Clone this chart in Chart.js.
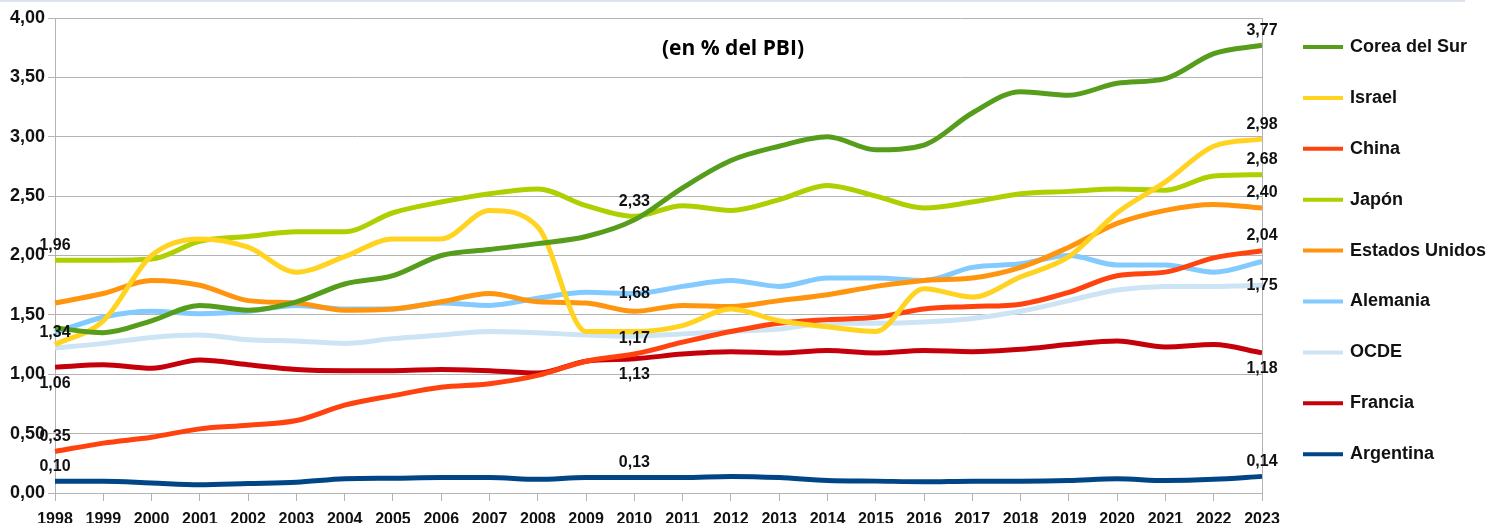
<!DOCTYPE html>
<html>
<head>
<meta charset="utf-8">
<script src="https://cdn.jsdelivr.net/npm/chart.js@4/dist/chart.umd.min.js"></script>
<style>
  html, body { margin: 0; padding: 0; background: #fff; }
  #wrap { width: 1498px; height: 523px; position: relative; }
</style>
</head>
<body>
<div id="wrap"><canvas id="chart"></canvas></div>
<script>
const years = ["1998","1999","2000","2001","2002","2003","2004","2005","2006","2007","2008","2009","2010",
               "2011","2012","2013","2014","2015","2016","2017","2018","2019","2020","2021","2022","2023"];

const corea     = [1.39,1.35,1.45,1.58,1.54,1.61,1.76,1.83,2.00,2.05,2.10,2.16,2.30,2.57,2.80,2.92,3.00,2.89,2.93,3.20,3.38,3.35,3.45,3.49,3.70,3.77];
const israel    = [1.25,1.45,2.00,2.14,2.07,1.86,1.99,2.14,2.14,2.38,2.24,1.36,1.36,1.41,1.55,1.45,1.40,1.36,1.72,1.65,1.82,1.99,2.36,2.62,2.92,2.98];
const china     = [0.35,0.42,0.47,0.54,0.57,0.61,0.74,0.82,0.89,0.92,0.99,1.11,1.17,1.27,1.36,1.43,1.46,1.48,1.55,1.57,1.59,1.69,1.83,1.86,1.98,2.04];
const japon     = [1.96,1.96,1.97,2.12,2.16,2.20,2.20,2.36,2.45,2.52,2.56,2.42,2.33,2.42,2.38,2.47,2.59,2.50,2.40,2.45,2.52,2.54,2.56,2.55,2.67,2.68];
const eeuu      = [1.60,1.68,1.79,1.75,1.62,1.60,1.54,1.55,1.61,1.68,1.61,1.60,1.53,1.58,1.57,1.62,1.67,1.74,1.79,1.81,1.90,2.07,2.27,2.38,2.43,2.40];
const alemania  = [1.35,1.48,1.53,1.51,1.53,1.58,1.55,1.55,1.60,1.58,1.64,1.69,1.68,1.74,1.79,1.74,1.81,1.81,1.79,1.90,1.93,2.00,1.92,1.92,1.86,1.95];
const ocde      = [1.22,1.26,1.31,1.33,1.29,1.28,1.26,1.30,1.33,1.36,1.35,1.33,1.32,1.34,1.36,1.38,1.43,1.43,1.44,1.47,1.53,1.62,1.71,1.74,1.74,1.75];
const francia   = [1.06,1.08,1.05,1.12,1.08,1.04,1.03,1.03,1.04,1.03,1.01,1.11,1.13,1.17,1.19,1.18,1.20,1.18,1.20,1.19,1.21,1.25,1.28,1.23,1.25,1.18];
const argentina = [0.10,0.10,0.085,0.07,0.08,0.09,0.12,0.125,0.13,0.13,0.115,0.13,0.13,0.13,0.14,0.13,0.105,0.10,0.095,0.10,0.10,0.105,0.12,0.105,0.115,0.14];

const seriesNames  = ["Corea del Sur","Israel","China","Japón","Estados Unidos","Alemania","OCDE","Francia","Argentina"];
const seriesValues = [corea, israel, china, japon, eeuu, alemania, ocde, francia, argentina];
const seriesColors = ["#579d1c","#ffd320","#ff420e","#aecf00","#ff950e","#83caff","#cde4f5","#c5000b","#004586"];

// value labels: [series, year, where]
const valueLabels = [
    [3, "1998", "above"], [5, "1998", "center"], [7, "1998", "below"], [2, "1998", "above"], [8, "1998", "above"],
    [3, "2010", "above"], [5, "2010", "center"], [2, "2010", "above"], [7, "2010", "below"], [8, "2010", "above"],
    [0, "2023", "above"], [1, "2023", "above"], [3, "2023", "above"], [4, "2023", "above"], [2, "2023", "above"],
    [6, "2023", "center"], [7, "2023", "below"], [8, "2023", "above"]
];
const labelTexts = ["1,96","1,34","1,06","0,35","0,10",
                    "2,33","1,68","1,17","1,13","0,13",
                    "3,77","2,98","2,68","2,40","2,04","1,75","1,18","0,14"];

const fmt = v => v.toFixed(2).replace(".", ",");

const extras = {
    id: "extras",
    afterDraw(chart) {
        const ctx = chart.ctx;
        const area = chart.chartArea;
        ctx.save();
        // top strip
        ctx.fillStyle = "#dde3ec";
        ctx.fillRect(0, 0, 1465, 2);
        // right border of plot
        ctx.strokeStyle = "#b3b3b3";
        ctx.lineWidth = 1;
        ctx.beginPath();
        ctx.moveTo(Math.round(area.right) + 0.5, area.top);
        ctx.lineTo(Math.round(area.right) + 0.5, area.bottom + 7);
        ctx.stroke();

        // title
        ctx.fillStyle = "#000";
        ctx.font = "bold 21px 'Open Sans'";
        ctx.textAlign = "center";
        ctx.textBaseline = "middle";
        ctx.fillText("(en % del PBI)", 733, 49);

        // value labels
        const xs = chart.scales.x, ys = chart.scales.y;
        ctx.font = "bold 16px 'Liberation Sans'";
        ctx.fillStyle = "#111";
        valueLabels.forEach((l, i) => {
            const idx = years.indexOf(l[1]);
            const x = xs.getPixelForValue(idx);
            let y = ys.getPixelForValue(seriesValues[l[0]][idx]);
            if (l[2] === "above") y -= 15;
            if (l[2] === "below") y += 16;
            ctx.fillText(labelTexts[i], x, y);
        });

        // legend
        ctx.textAlign = "left";
        ctx.font = "bold 18px 'Liberation Sans'";
        seriesNames.forEach((name, i) => {
            const y = 47 + i * 50.9;
            ctx.strokeStyle = seriesColors[i];
            ctx.lineWidth = 4;
            ctx.beginPath();
            ctx.moveTo(1303, y);
            ctx.lineTo(1343, y);
            ctx.stroke();
            ctx.fillStyle = "#111";
            ctx.fillText(name, 1350, y);
        });
        ctx.restore();
    }
};

new Chart(document.getElementById("chart"), {
    type: "line",
    data: {
        labels: years,
        datasets: seriesNames.map((name, i) => ({
            label: name,
            data: seriesValues[i],
            borderColor: seriesColors[i],
            backgroundColor: seriesColors[i],
            borderWidth: 5,
            pointRadius: 0,
            fill: false,
            cubicInterpolationMode: "monotone"
        }))
    },
    options: {
        responsive: true,
        maintainAspectRatio: false,
        animation: false,
        layout: { padding: { left: 0, right: 236, top: 18, bottom: 0 } },
        plugins: {
            legend: { display: false },
            tooltip: { enabled: false }
        },
        scales: {
            x: {
                offset: false,
                afterFit: s => { s.height = 30; },
                grid: { drawOnChartArea: false, drawTicks: true, tickLength: 8, color: "#b3b3b3" },
                border: { color: "#b3b3b3" },
                ticks: {
                    color: "#111",
                    font: { family: "'Liberation Sans'", size: 16, weight: "bold" },
                    padding: 9,
                    maxRotation: 0,
                    autoSkip: false
                }
            },
            y: {
                min: 0,
                max: 4,
                afterFit: s => { s.width = 55; },
                grid: { color: "#b3b3b3", tickLength: 7 },
                border: { color: "#b3b3b3" },
                ticks: {
                    stepSize: 0.5,
                    color: "#111",
                    font: { family: "'Liberation Sans'", size: 18, weight: "bold" },
                    padding: 3,
                    callback: v => fmt(v)
                }
            }
        }
    },
    plugins: [extras]
});
</script>
</body>
</html>
